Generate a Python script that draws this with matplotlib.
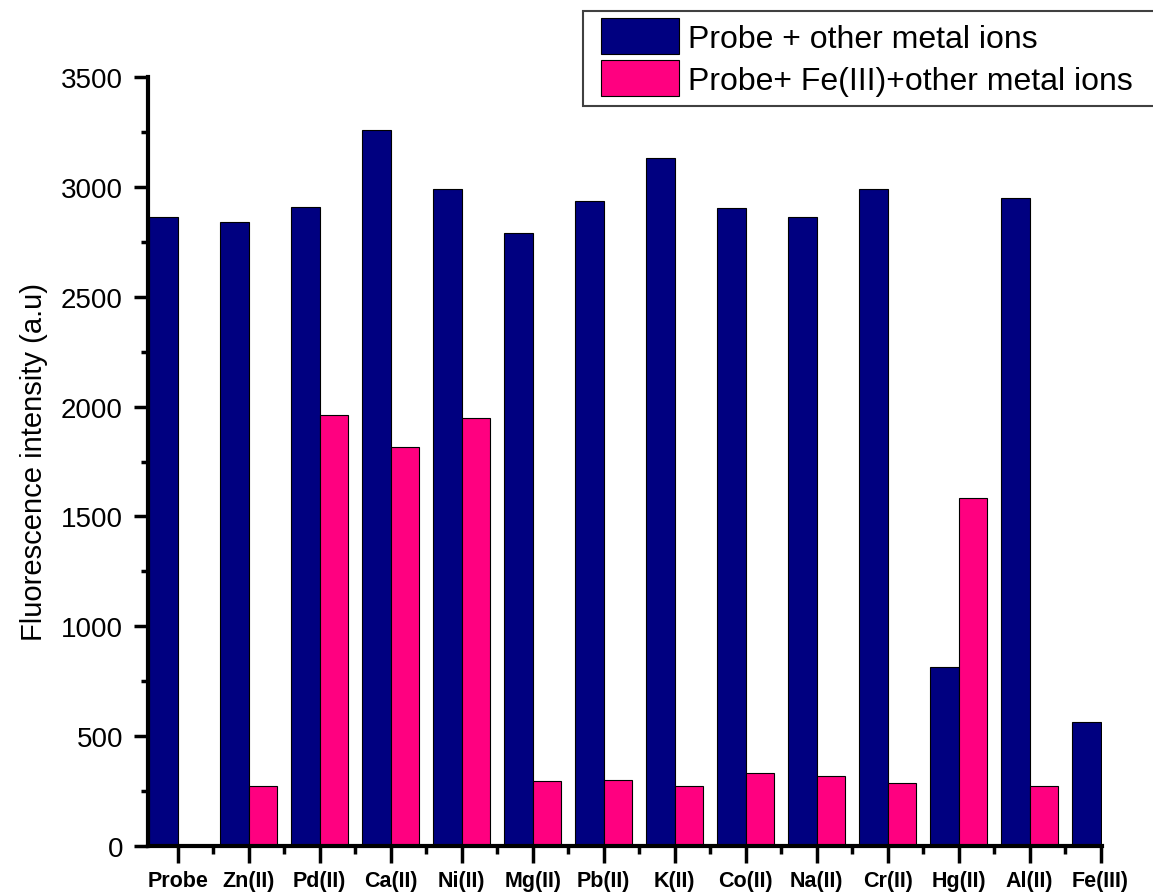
import matplotlib
matplotlib.use("Agg")
import matplotlib.pyplot as plt
import numpy as np
from matplotlib.ticker import MultipleLocator, FixedLocator
from matplotlib.patches import Rectangle

plt.rcParams['font.family'] = ['Liberation Sans', 'DejaVu Sans']

categories = ["Probe", "Zn(II)", "Pd(II)", "Ca(II)", "Ni(II)", "Mg(II)", "Pb(II)",
              "K(II)", "Co(II)", "Na(II)", "Cr(II)", "Hg(II)", "Al(II)", "Fe(III)"]
probe_metal = [2862, 2841, 2908, 3259, 2991, 2791, 2935,
               3132, 2903, 2865, 2990, 816, 2948, 565]
probe_fe_metal = [0, 275, 1960, 1814, 1946, 296, 300,
                  273, 333, 319, 287, 1582, 275, 0]
series_labels = ["Probe + other metal ions", "Probe+ Fe(III)+other metal ions"]

W, H = 1153, 895
fig = plt.figure(figsize=(W / 100, H / 100), dpi=100)
ax = fig.add_axes([148 / W, 1 - 847 / H, (1102 - 148) / W, (847 - 78) / H])

x = np.arange(len(categories))
w = 0.40
ax.bar(x, probe_metal, width=-w, align='edge', color='#000080',
       edgecolor='black', linewidth=0.8, label=series_labels[0])
ax.bar(x, probe_fe_metal, width=w, align='edge', color='#FF0080',
       edgecolor='black', linewidth=0.8, label=series_labels[1])

ax.set_xlim(-0.42, 13.02)
ax.set_ylim(0, 3500)

ax.set_xticks(x)
ax.set_xticklabels(categories, fontsize=15.5, fontweight='bold')
ax.xaxis.set_minor_locator(FixedLocator(x[:-1] + 0.5))
ax.yaxis.set_major_locator(MultipleLocator(500))
ax.yaxis.set_minor_locator(MultipleLocator(250))
ax.tick_params(axis='y', labelsize=20, width=2.5, length=10, direction='out', pad=8)
ax.tick_params(axis='y', which='minor', width=2.5, length=5)
ax.tick_params(axis='x', width=2.5, length=12, direction='out', pad=5)
ax.tick_params(axis='x', which='minor', width=2.5, length=6)

for side in ('top', 'right'):
    ax.spines[side].set_visible(False)
for side in ('left', 'bottom'):
    ax.spines[side].set_linewidth(3)

ax.set_ylabel("Fluorescence intensity (a.u)", fontsize=21, labelpad=9)

# legend box runs off the right edge of the figure
fig.patches.append(Rectangle((583 / W, 1 - 107 / H), (W + 10 - 583) / W, 95 / H,
                             transform=fig.transFigure, facecolor='white',
                             edgecolor='#404040', linewidth=1.5, zorder=2))
leg = fig.legend(loc='upper left', bbox_to_anchor=(601 / W, 1 - 19 / H),
                 fontsize=23, frameon=False,
                 handlelength=2.45, handleheight=1.35, handletextpad=0.28,
                 labelspacing=0.2, borderpad=0, borderaxespad=0)
leg.set_zorder(3)

fig.savefig("out.png", dpi=100)
